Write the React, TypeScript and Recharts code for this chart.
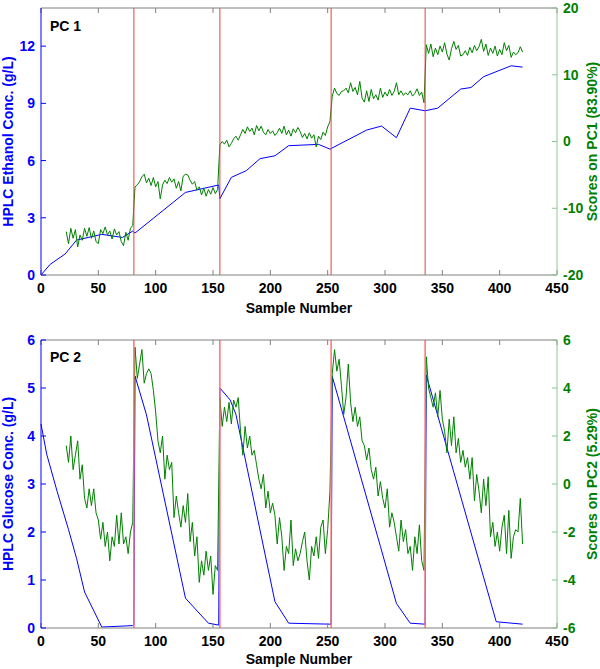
import { ComposedChart, Line, XAxis, YAxis, ReferenceLine, Label } from "recharts"

// sample axis + batch boundaries (red lines)
const xTicks = [0, 50, 100, 150, 200, 250, 300, 350, 400, 450]
const batchStarts = [81, 156, 253, 335]

// PC 1 panel: HPLC ethanol (left axis) and PC1 scores (right axis)
const ethanolSamples = [0, 8, 21, 31, 53, 71, 80, 82, 126, 155, 156, 166, 179, 191, 204, 216, 242, 252, 284, 297, 310, 322, 335, 346, 366, 375, 386, 410, 420]
const ethanolConc = [0, 0.56, 1.1, 1.83, 2.13, 1.97, 2.3, 2.2, 4.33, 4.72, 4.0, 5.12, 5.47, 6.1, 6.25, 6.78, 6.85, 6.6, 7.6, 7.81, 7.2, 8.75, 8.61, 8.75, 9.75, 9.83, 10.4, 10.97, 10.9]

// scores are read every 2nd sample, starting at sample 22
const scoreStart = 22
const scoreStep = 2
const pc1Scores = [
  -13.5, -15.3, -13.0, -14.5, -13.2, -15.8, -14.0, -14.8, -13.0, -14.2,
  -12.9, -14.5, -13.4, -15.0, -15.3, -13.2, -13.8, -12.8, -14.0, -13.4,
  -14.6, -13.1, -14.0, -13.5, -15.0, -15.6, -13.6, -14.8, -13.0, -12.6,
  -6.8, -6.5, -6.0, -5.3, -4.9, -6.2, -5.5, -6.6, -5.4, -6.8,
  -6.0, -8.6, -6.5, -5.8, -6.3, -5.4, -6.1, -5.6, -7.0, -6.0,
  -7.4, -5.2, -4.9, -5.0, -5.8, -6.4, -6.0, -7.3, -6.8, -8.0,
  -7.0, -8.2, -7.2, -7.9, -6.9, -7.8, -7.2,
  -0.5, 0.0, -0.4, 0.2, -0.8, -0.3, 0.4, 0.8, 0.2, 1.0,
  1.8, 1.2, 2.2, 1.5, 2.0, 1.0, 2.4, 1.6, 2.3, 1.4,
  1.0, 1.8, 1.2, 1.6, 0.9, 1.3, 2.0, 1.2, 2.3, 1.0,
  1.7, 0.8, 1.9, 1.3, 2.1, 1.5, 0.6, 1.2, 0.4, 1.3,
  0.5, 1.0, -0.8, 0.8, 0.3, 1.4, 0.9, 2.2, 3.0,
  6.8, 8.0, 7.2, 6.9, 7.5, 7.6, 8.0, 7.3, 8.8, 7.5,
  8.1, 7.0, 9.0, 6.5, 5.9, 7.6, 6.0, 7.8, 6.4, 7.0,
  6.2, 8.0, 6.6, 7.4, 6.8, 7.8, 6.9, 7.5, 8.8, 7.0,
  7.6, 6.9, 7.3, 7.0, 7.6, 6.8, 7.2, 7.9, 6.9, 7.4,
  5.8,
  14.5, 13.2, 14.6, 12.7, 14.0, 13.0, 14.3, 13.4, 14.8, 13.1,
  12.2, 13.9, 15.0, 13.8, 14.4, 12.8, 13.0, 13.6, 12.9, 14.1,
  13.3, 14.4, 13.6, 14.2, 15.3, 13.5, 14.6, 12.9, 14.0, 13.2,
  14.3, 12.8, 13.8, 13.0, 14.8, 13.6, 14.4, 12.6, 13.4, 13.0,
  13.3, 14.2, 13.4,
]

// PC 2 panel: HPLC glucose (left axis) and PC2 scores (right axis)
const glucoseSamples = [0, 5, 14, 24, 31, 38, 53, 80, 81, 82, 92, 126, 146, 155, 156, 165, 170, 204, 216, 252, 253, 254, 296, 310, 322, 335, 336, 397, 420]
const glucoseConc = [4.25, 3.62, 2.85, 2.05, 1.45, 0.75, 0.02, 0.05, 0.06, 5.25, 4.44, 0.62, 0.1, 0.06, 5.0, 4.75, 4.45, 0.55, 0.1, 0.08, 0.08, 5.24, 1.7, 0.51, 0.1, 0.08, 5.27, 0.13, 0.08]

const pc2Scores = [
  1.6, 0.9, 2.0, 0.6, 1.2, 1.8, 0.2, 0.8, -0.6, -1.0,
  -0.2, -0.9, -0.2, -1.2, -1.5, -2.3, -1.6, -2.6, -2.0, -3.2,
  -2.2, -2.6, -1.3, -2.5, -1.2, -2.5, -2.2, -2.9, -2.0, -1.6,
  5.7, 4.4, 5.0, 5.6, 4.2, 4.6, 4.8, 4.6, 3.9, 3.0,
  1.8, 1.3, 2.0, 0.2, 1.2, 0.6, 0.9, -1.4, -0.5, -1.2,
  -1.8, -0.9, -1.6, -0.4, -2.4, -1.6, -3.0, -2.2, -4.1, -3.2,
  -3.8, -2.8, -3.6, -3.0, -4.6, -3.4, -3.6,
  3.6, 2.4, 3.2, 2.6, 3.4, 2.5, 3.5, 3.2, 3.6, 2.2,
  1.2, 2.4, 1.5, 2.0, 1.2, 1.4, 0.8, 0.2, -0.2, 0.4,
  -1.0, -0.3, -1.2, -0.8, -1.3, -2.5, -1.4, -2.2, -3.6, -2.6,
  -2.9, -1.5, -3.4, -2.7, -3.2, -2.9, -2.4, -2.0, -3.2, -4.0,
  -2.6, -3.0, -2.2, -3.1, -1.8, -1.5, -2.9, -1.9, -0.3,
  4.6, 5.6, 4.7, 5.2, 4.1, 2.9, 3.6, 5.0, 3.4, 2.6,
  3.2, 2.4, 2.8, 1.8, 1.6, 1.0, 1.5, 0.6, 0.2, 0.7,
  -0.5, 0.1, -0.6, -1.0, -0.2, -1.8, -1.2, -1.6, -2.2, -2.8,
  -1.5, -2.4, -1.9, -2.9, -2.6, -3.6, -2.2, -2.9, -1.7, -3.2,
  -3.6,
  5.3, 4.0, 3.6, 3.2, 3.8, 2.8, 3.9, 2.7, 2.2, 1.3,
  2.7, 1.6, 2.8, 1.3, 1.9, 0.9, 1.4, 0.7, 1.1, 0.2,
  1.1, -0.7, 0.4, -0.3, -1.2, 0.2, -0.9, 0.3, -2.2, -1.6,
  -2.6, -2.0, -2.8, -1.8, -1.3, -2.9, -1.1, -3.1, -2.2, -1.9,
  -2.0, -0.6, -2.5,
]

const BLUE = "#0000ff"
const GREEN = "#008000"
const GRAY = "#808080"
const FONT = { fontSize: 14, fontWeight: "bold" }

const toPoints = (xs: number[], ys: number[]) => xs.map((x, i) => ({ x, y: ys[i] }))
const toScorePoints = (ys: number[]) => ys.map((y, i) => ({ x: scoreStart + i * scoreStep, y }))

function Panel({ top, height, marginTop, xAxisHeight, titleTop, title, leftLabel, leftDomain, leftTicks, rightLabel, rightDomain, rightTicks, conc, scores, redColor, redWidth, xLabelOffset }: any) {
  return (
    <div style={{ position: "absolute", left: 0, top, width: 600, height }}>
      <ComposedChart width={600} height={height} margin={{ top: marginTop - 1, right: 0, bottom: 0, left: 0 }}>
        {/* scores sit on the top x axis (second axes, like plotyy) -> top edge of the box */}
        <XAxis
          xAxisId="t"
          orientation="top"
          type="number"
          dataKey="x"
          domain={[0, 450]}
          ticks={xTicks}
          interval={0}
          height={1}
          stroke={GRAY}
          tickSize={-5}
          tickFormatter={() => ""}
        />
        <XAxis
          xAxisId="b"
          type="number"
          dataKey="x"
          domain={[0, 450]}
          ticks={xTicks}
          interval={0}
          height={xAxisHeight}
          stroke={GRAY}
          tickSize={-5}
          tickMargin={13}
          tick={{ fill: "#000", ...FONT }}
        >
          <Label value="Sample Number" position="insideBottom" offset={xLabelOffset} fill="#000" {...FONT} />
        </XAxis>
        <YAxis
          yAxisId="l"
          type="number"
          domain={leftDomain}
          ticks={leftTicks}
          interval={0}
          width={41}
          stroke={BLUE}
          tickSize={-5}
          tickMargin={11}
          tick={{ fill: BLUE, ...FONT }}
        >
          <Label value={leftLabel} angle={-90} position="insideLeft" offset={8} fill={BLUE} {...FONT} style={{ textAnchor: "middle" }} />
        </YAxis>
        <YAxis
          yAxisId="r"
          orientation="right"
          type="number"
          domain={rightDomain}
          ticks={rightTicks}
          interval={0}
          width={43}
          stroke="#8cc88c"
          tickSize={-5}
          tickMargin={11}
          tick={{ fill: GREEN, ...FONT }}
        >
          <Label value={rightLabel} angle={-90} position="insideRight" offset={8} fill={GREEN} {...FONT} style={{ textAnchor: "middle" }} />
        </YAxis>
        <Line xAxisId="b" yAxisId="l" data={conc} dataKey="y" type="linear" stroke={BLUE} strokeWidth={1} dot={false} isAnimationActive={false} />
        <Line xAxisId="t" yAxisId="r" data={scores} dataKey="y" type="linear" stroke={GREEN} strokeWidth={1} dot={false} isAnimationActive={false} />
        {batchStarts.map((b) => (
          <ReferenceLine key={b} xAxisId="b" yAxisId="l" x={b} stroke={redColor} strokeWidth={redWidth} />
        ))}
      </ComposedChart>
      <div style={{ position: "absolute", left: 50, top: titleTop, fontSize: 14, lineHeight: "14px", fontWeight: "bold", color: "#000" }}>
        {title}
      </div>
    </div>
  )
}

export default function App() {
  return (
    <div
      style={{
        position: "absolute",
        left: 0,
        top: 0,
        width: 600,
        height: 669,
        background: "#fff",
        fontFamily: '"Liberation Sans", Arial, Helvetica, sans-serif',
      }}
    >
      <Panel
        top={0}
        height={322}
        marginTop={8}
        xAxisHeight={47}
        titleTop={19}
        title="PC 1"
        leftLabel="HPLC Ethanol Conc. (g/L)"
        leftDomain={[0, 14]}
        leftTicks={[0, 3, 6, 9, 12]}
        rightLabel="Scores on PC1 (83.90%)"
        rightDomain={[-20, 20]}
        rightTicks={[-20, -10, 0, 10, 20]}
        conc={toPoints(ethanolSamples, ethanolConc)}
        scores={toScorePoints(pc1Scores)}
        redColor="#e8403c"
        redWidth={1}
        xLabelOffset={9}
      />
      <Panel
        top={322}
        height={347}
        marginTop={18}
        xAxisHeight={41}
        titleTop={28}
        title="PC 2"
        leftLabel="HPLC Glucose Conc. (g/L)"
        leftDomain={[0, 6]}
        leftTicks={[0, 1, 2, 3, 4, 5, 6]}
        rightLabel="Scores on PC2 (5.29%)"
        rightDomain={[-6, 6]}
        rightTicks={[-6, -4, -2, 0, 2, 4, 6]}
        conc={toPoints(glucoseSamples, glucoseConc)}
        scores={toScorePoints(pc2Scores)}
        redColor="#ff7070"
        redWidth={1.5}
        xLabelOffset={5}
      />
    </div>
  )
}
